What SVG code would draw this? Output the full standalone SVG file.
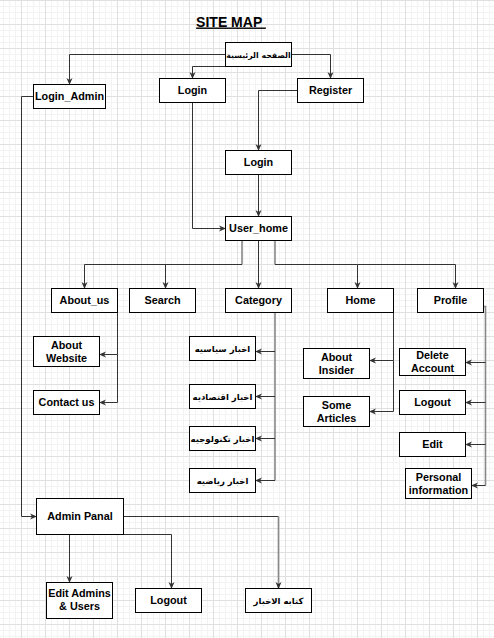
<svg xmlns="http://www.w3.org/2000/svg" width="494" height="638" viewBox="0 0 494 638">
<style>
.n{fill:#fff;stroke:#000;stroke-width:1}
.t{font-family:"Liberation Sans",Arial,sans-serif;font-weight:bold;font-size:10.8px;fill:#000;text-anchor:middle}
.a{font-family:"DejaVu Sans","Noto Sans",sans-serif;font-weight:bold;font-size:8.5px;fill:#000;text-anchor:middle}
.c{fill:none;stroke:#333;stroke-width:1;marker-end:url(#arr)}
.g{fill:none;stroke:#888;stroke-width:1.6;marker-end:url(#arr)}
</style>
<defs>
<pattern id="grid" x="21" y="0" width="24" height="24" patternUnits="userSpaceOnUse">
<path d="M6.5,0V24M12.5,0V24M18.5,0V24M0,6.5H24M0,12.5H24M0,18.5H24" stroke="#f3f3f3" stroke-width="1" fill="none"/>
<path d="M0.5,0V24M0,0.5H24" stroke="#e0e0e0" stroke-width="1" fill="none"/>
</pattern>
<marker id="arr" markerUnits="userSpaceOnUse" markerWidth="7" markerHeight="7" refX="6.5" refY="3.5" orient="auto">
<path d="M0,0.5 L7,3.5 L0,6.5 L2,3.5 z" fill="#333"/>
</marker>
</defs>
<rect width="494" height="638" fill="#fff"/>
<rect width="494" height="638" fill="url(#grid)"/>
<text x="231" y="26.5" font-family="Liberation Sans, Arial, sans-serif" font-weight="bold" font-size="14" text-anchor="middle" text-decoration="underline" xml:space="preserve">SITE MAP </text>
<g id="connectors">
<path class="c" d="M225.5,54.5 H69.5 V84.5"/>
<path class="c" d="M225.5,66.5 H192.5 V78.5"/>
<path class="c" d="M291.5,54.5 H330.5 V78.5"/>
<path class="c" d="M297.5,90.5 H258.5 V150.5"/>
<path class="c" d="M192.5,102.5 V228.5 H225.5"/>
<path class="c" d="M258.5,174.5 V216.5"/>
<path d="M242,240.5 V264.5 M275,240.5 V264.5" stroke="#888" stroke-width="1.6" fill="none"/>
<path class="c" d="M242,264.5 H84.5 V288.5"/>
<path class="c" d="M165.5,264.5 V288.5"/>
<path class="c" d="M258.5,240.5 V288.5"/>
<path class="c" d="M275,264.5 H357.5 V288.5"/>
<path class="c" d="M357.5,264.5 H455.5 V288.5"/>
<path class="c" d="M117.5,312.5 V354.5 H99.5"/>
<path class="c" d="M117.5,354.5 V402.5 H99.5"/>
<path d="M275,312.5 V480.5" stroke="#888" stroke-width="1.6" fill="none"/>
<path class="c" d="M275,351.5 H255.5"/>
<path class="c" d="M275,396.5 H255.5"/>
<path class="c" d="M275,438.5 H255.5"/>
<path class="c" d="M275,480.5 H255.5"/>
<path class="c" d="M393.5,312.5 V360.5 H369.5"/>
<path class="c" d="M393.5,360.5 V411.5 H369.5"/>
<path d="M483.5,306.5 H485.5 V485.5" stroke="#888" stroke-width="1.6" fill="none"/>
<path class="c" d="M485.5,362.5 H465.5"/>
<path class="c" d="M485.5,402.5 H465.5"/>
<path class="c" d="M485.5,444.5 H465.5"/>
<path class="c" d="M485.5,485.5 H471.5"/>
<path class="c" d="M33.5,96.5 H21.5 V516.5 H36.5"/>
<path class="c" d="M69.5,534.5 V582.5"/>
<path class="c" d="M123.5,534.5 H171.5 V588.5"/>
<path d="M123.5,516.5 H278.5" stroke="#333" stroke-width="1" fill="none"/>
<path class="g" d="M278.5,516.5 V588.5"/>
</g>
<g id="node-main"><rect class="n" x="225.5" y="42.5" width="66" height="24"/><text class="a" x="258.5" y="57.5" style="font-size:7.8px">الصفحه الرئيسية</text></g>
<g id="node-login-admin"><rect class="n" x="33.5" y="84.5" width="72" height="24"/><text class="t" x="69.5" y="100.3">Login_Admin</text></g>
<g id="node-login"><rect class="n" x="159.5" y="78.5" width="66" height="24"/><text class="t" x="192.5" y="94.3">Login</text></g>
<g id="node-register"><rect class="n" x="297.5" y="78.5" width="66" height="24"/><text class="t" x="330.5" y="94.3">Register</text></g>
<g id="node-login2"><rect class="n" x="225.5" y="150.5" width="66" height="24"/><text class="t" x="258.5" y="166.3">Login</text></g>
<g id="node-user-home"><rect class="n" x="225.5" y="216.5" width="66" height="24"/><text class="t" x="258.5" y="232.3">User_home</text></g>
<g id="node-about-us"><rect class="n" x="51.5" y="288.5" width="66" height="24"/><text class="t" x="84.5" y="304.3">About_us</text></g>
<g id="node-search"><rect class="n" x="129.5" y="288.5" width="66" height="24"/><text class="t" x="162.5" y="304.3">Search</text></g>
<g id="node-category"><rect class="n" x="225.5" y="288.5" width="66" height="24"/><text class="t" x="258.5" y="304.3">Category</text></g>
<g id="node-home"><rect class="n" x="327.5" y="288.5" width="66" height="24"/><text class="t" x="360.5" y="304.3">Home</text></g>
<g id="node-profile"><rect class="n" x="417.5" y="288.5" width="66" height="24"/><text class="t" x="450.5" y="304.3">Profile</text></g>
<g id="node-about-website"><rect class="n" x="33.5" y="336.5" width="66" height="30"/><text class="t" x="66.5" y="348.8">About</text><text class="t" x="66.5" y="361.8">Website</text></g>
<g id="node-contact-us"><rect class="n" x="33.5" y="390.5" width="66" height="24"/><text class="t" x="66.5" y="406.3">Contact us</text></g>
<g id="node-cat-politics"><rect class="n" x="189.5" y="336.5" width="66" height="24"/><text class="a" x="222.5" y="351.5">اخبار سياسيه</text></g>
<g id="node-cat-economy"><rect class="n" x="189.5" y="384.5" width="66" height="24"/><text class="a" x="222.5" y="399.5">اخبار اقتصاديه</text></g>
<g id="node-cat-tech"><rect class="n" x="189.5" y="426.5" width="66" height="24"/><text class="a" x="222.5" y="441.5">اخبار تكنولوجيه</text></g>
<g id="node-cat-sports"><rect class="n" x="189.5" y="468.5" width="66" height="24"/><text class="a" x="222.5" y="483.5">اخبار رياضيه</text></g>
<g id="node-about-insider"><rect class="n" x="303.5" y="348.5" width="66" height="30"/><text class="t" x="336.5" y="360.8">About</text><text class="t" x="336.5" y="373.8">Insider</text></g>
<g id="node-some-articles"><rect class="n" x="303.5" y="396.5" width="66" height="30"/><text class="t" x="336.5" y="408.8">Some</text><text class="t" x="336.5" y="421.8">Articles</text></g>
<g id="node-delete-account"><rect class="n" x="399.5" y="348.5" width="66" height="27"/><text class="t" x="432.5" y="359.3">Delete</text><text class="t" x="432.5" y="372.3">Account</text></g>
<g id="node-logout"><rect class="n" x="399.5" y="390.5" width="66" height="24"/><text class="t" x="432.5" y="406.3">Logout</text></g>
<g id="node-edit"><rect class="n" x="399.5" y="432.5" width="66" height="24"/><text class="t" x="432.5" y="448.3">Edit</text></g>
<g id="node-personal-info"><rect class="n" x="405.5" y="468.5" width="66" height="30"/><text class="t" x="438.5" y="480.8">Personal</text><text class="t" x="438.5" y="493.8">information</text></g>
<g id="node-admin-panal"><rect class="n" x="36.5" y="498.5" width="87" height="36"/><text class="t" x="80" y="520.3">Admin Panal</text></g>
<g id="node-edit-admins"><rect class="n" x="46.5" y="582.5" width="66" height="36"/><text class="t" x="79.5" y="597">Edit Admins</text><text class="t" x="79.5" y="610">&amp; Users</text></g>
<g id="node-admin-logout"><rect class="n" x="135.5" y="588.5" width="66" height="24"/><text class="t" x="168.5" y="604.3">Logout</text></g>
<g id="node-write-news"><rect class="n" x="245.5" y="588.5" width="66" height="24"/><text class="a" x="278.5" y="603.5">كتابه الاخبار</text></g>
</svg>
